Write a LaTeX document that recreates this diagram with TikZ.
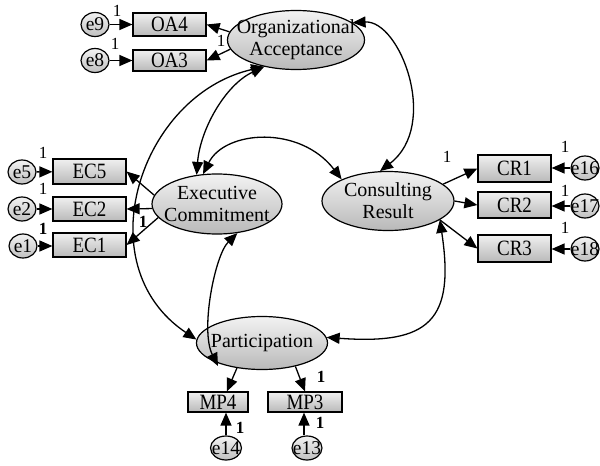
\documentclass[tikz,border=0pt]{standalone}
\usepackage{fontspec}
\usepackage{graphicx}
\setmainfont{Liberation Serif}
\usetikzlibrary{arrows.meta,shapes.geometric,calc}
\newcommand{\tallbox}[1]{\scalebox{1}[1.15]{#1}}
\begin{document}
\begin{tikzpicture}[x=1pt,y=-1pt,
  lat/.style={ellipse,draw,line width=1.2pt,top color=gray!10,bottom color=gray!55,inner sep=0pt},
  ltext/.style={inner sep=0pt,align=center,font=\fontsize{20}{22}\selectfont},
  obs/.style={rectangle,draw,line width=1.2pt,top color=gray!12,bottom color=gray!55,inner sep=0pt,minimum width=73pt,font=\fontsize{19}{20}\selectfont},
  err/.style={ellipse,draw,line width=1.2pt,top color=gray!10,bottom color=gray!50,inner sep=0pt,minimum width=28pt,minimum height=24pt,font=\fontsize{19.5}{20}\selectfont},
  tip/.tip={Triangle[length=13pt,width=11pt]},
  arr/.style={line width=1.3pt,-tip},
  cov/.style={line width=1.3pt,tip-tip},
  one/.style={font=\fontsize{17}{17}\selectfont,inner sep=0pt},
  bone/.style={font=\fontsize{17}{17}\selectfont\bfseries,inner sep=0pt}]
\useasboundingbox (0,0) rectangle (600,466);

% label partly covered by the ellipse
\node[one] (l3) at (221,41) {1};

% latent variables
\node[lat,minimum width=137pt,minimum height=59pt] (OA) at (296,40) {};
\node[ltext] (OAt) at (OA) {Organizational\\Acceptance};
\node[lat,minimum width=130pt,minimum height=60pt] (EC) at (217,204) {};
\node[ltext] (ECt) at (EC) {Executive\\Commitment};
\node[lat,minimum width=132pt,minimum height=59pt] (CR) at (388,201) {};
\node[ltext] (CRt) at (CR) {Consulting\\Result};
\node[lat,minimum width=131pt,minimum height=53pt] (P) at (262,343) {};
\node[ltext] (Pt) at (P) {Participation};

% observed variables
\node[obs,minimum height=23pt] (OA4) at (169.5,24.5) {\tallbox{OA4}};
\node[obs,minimum height=21pt] (OA3) at (169.5,60.5) {\tallbox{OA3}};
\node[obs,minimum height=25pt] (EC5) at (89.5,171.5) {\tallbox{EC5}};
\node[obs,minimum height=24pt] (EC2) at (89.5,209) {\tallbox{EC2}};
\node[obs,minimum height=24pt] (EC1) at (89.5,245) {\tallbox{EC1}};
\node[obs,minimum height=27pt] (CR1) at (514.5,168.5) {\tallbox{CR1}};
\node[obs,minimum height=26pt] (CR2) at (514.5,205) {\tallbox{CR2}};
\node[obs,minimum height=27pt] (CR3) at (514.5,248.5) {\tallbox{CR3}};
\node[obs,minimum height=20pt,minimum width=60pt] (MP4) at (218,402) {\tallbox{MP4}};
\node[obs,minimum height=20pt,minimum width=74pt] (MP3) at (305,402) {\tallbox{MP3}};

% error terms
\node[err] (e9) at (95,24.5) {\makebox[0pt]{e9}};
\node[err] (e8) at (95,60.5) {\makebox[0pt]{e8}};
\node[err] (e5) at (22,172) {\makebox[0pt]{e5}};
\node[err] (e2) at (22,209) {\makebox[0pt]{e2}};
\node[err] (e1) at (23,246) {\makebox[0pt]{e1}};
\node[err] (e16) at (585,168) {\makebox[0pt]{e16}};
\node[err] (e17) at (585,206) {\makebox[0pt]{e17}};
\node[err] (e18) at (585,249) {\makebox[0pt]{e18}};
\node[err,minimum width=31pt] (e14) at (226,448) {\makebox[0pt]{e14}};
\node[err,minimum width=30pt] (e13) at (307,448) {\makebox[0pt]{e13}};

% error arrows
\draw[arr] (e9) -- (OA4);
\draw[arr] (e8) -- (OA3);
\draw[arr] (e5) -- (EC5);
\draw[arr] (e2) -- (EC2);
\draw[arr] (e1.east) -- (EC1.west |- e1.east);
\draw[arr] (e16.west) -- (CR1.east |- e16.west);
\draw[arr] (e17.west) -- (CR2.east |- e17.west);
\draw[arr] (e18.west) -- (CR3.east |- e18.west);
\draw[arr] (e14.north) -- (e14.north |- MP4.south);
\draw[arr] ($(e13.north)+(-3,0)$) -- ($(e13.north |- MP3.south)+(-3,0)$);

% loadings
\draw[arr] (OA.173) -- (OA4.east);
\draw[arr] (OA.188) -- (OA3.east);
\draw[arr] (EC.172) -- (EC5.east);
\draw[arr] (EC.184) -- (EC2.east);
\draw[arr] (EC.193) -- (EC1.east);
\draw[arr] (CR.17) -- (CR1.west);
\draw[arr] (CR.east) -- (CR2.west);
\draw[arr] (CR.-20) -- (CR3.west);
\draw[arr] (P.225) -- (MP4.50);
\draw[arr] (P.-35) -- (MP3.north);

% covariances
\coordinate (pin) at (218,366);
\draw[cov] (OA.17) .. controls (400,20) and (440,125) .. (CR.105);
\draw[cov] (OA.220) .. controls (225,85) and (200,130) .. (EC.125);
\draw[cov] (EC.115) .. controls (225,130) and (300,125) .. (CR.155);
\draw[cov] (OA.220) .. controls (140,95) and (85,265) .. (P.177);
\draw[cov] (EC.-55) .. controls (215,255) and (200,330) .. (pin);
\draw[cov] (CR.-20) .. controls (455,320) and (430,345) .. (P.5);

% labels
\node[one] (l1) at (117,11) {1};
\node[one] (l2) at (115,44) {1};
\node[one] (l4) at (43,153) {1};
\node[one] (l5) at (43,189) {1};
\node[bone] (l6) at (43,229) {1};
\node[bone] (l7) at (143,222) {1};
\node[one] (l8) at (447,157) {1};
\node[one] (l9) at (565,147) {1};
\node[one] (l10) at (565,191) {1};
\node[one] (l11) at (565,228) {1};
\node[bone] (l12) at (321,377) {1};
\node[bone] (l13) at (240,428) {1};
\node[bone] (l14) at (320,423) {1};
\end{tikzpicture}
\end{document}
